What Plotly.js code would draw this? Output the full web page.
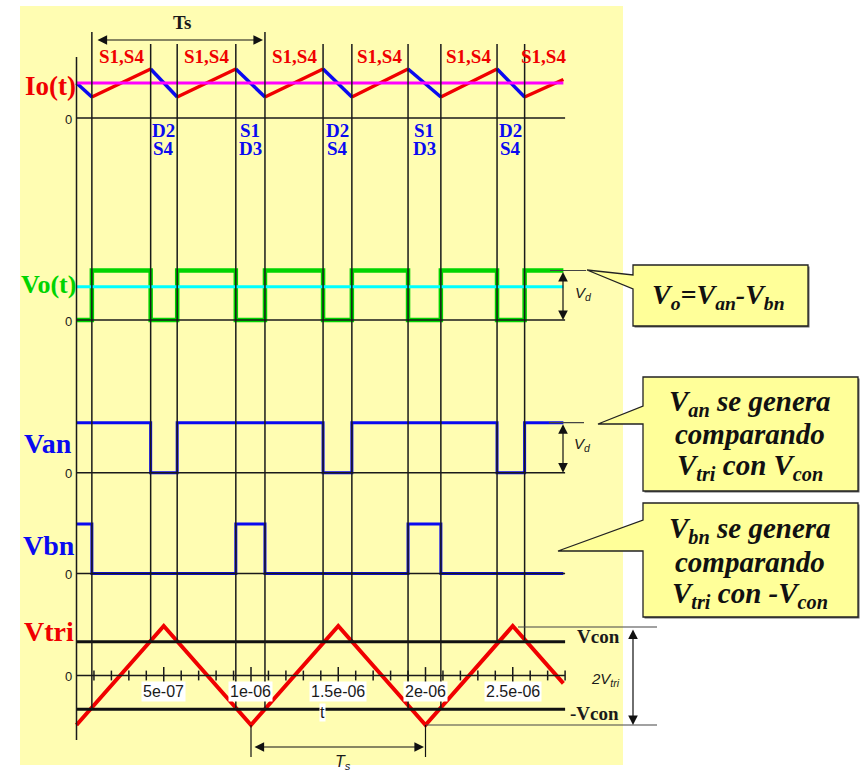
<!DOCTYPE html>
<html>
<head>
<meta charset="utf-8">
<script src="https://cdn.plot.ly/plotly-3.0.1.min.js"></script>
<style>html,body{margin:0;padding:0;background:#fff}</style>
</head>
<body>
<div id="chart" style="width:863px;height:773px"></div>
<script>
// ---- waveform data (time in seconds) ----
const vanSwitchT = [0.425e-6, 0.577e-6, 1.413e-6, 1.578e-6, 2.410e-6, 2.568e-6];
const vbnSwitchT = [0.088e-6, 0.913e-6, 1.080e-6, 1.900e-6, 2.088e-6];

const ioT = [0, 0.088e-6, 0.425e-6, 0.577e-6, 0.913e-6, 1.080e-6, 1.413e-6, 1.578e-6, 1.900e-6, 2.088e-6, 2.410e-6, 2.568e-6, 2.790e-6];
const ioV = [1.0, 0.6, 1.4, 0.6, 1.4, 0.6, 1.4, 0.6, 1.4, 0.6, 1.4, 0.6, 1.1];
const ioAvg = 1.0;

const voT = [0, 0.088e-6, 0.425e-6, 0.577e-6, 0.913e-6, 1.080e-6, 1.413e-6, 1.578e-6, 1.900e-6, 2.088e-6, 2.410e-6, 2.568e-6, 2.790e-6];
const voV = [0, 1, 0, 1, 0, 1, 0, 1, 0, 1, 0, 1, 1];
const voAvg = 0.67;

const vanT = [0, 0.425e-6, 0.577e-6, 1.413e-6, 1.578e-6, 2.410e-6, 2.568e-6, 2.790e-6];
const vanV = [1, 0, 1, 0, 1, 0, 1, 1];

const vbnT = [0, 0.088e-6, 0.913e-6, 1.080e-6, 1.900e-6, 2.088e-6, 2.790e-6];
const vbnV = [1, 0, 1, 0, 1, 0, 0];

const vtriT = [0, 0.5e-6, 1.0e-6, 1.5e-6, 2.0e-6, 2.5e-6, 2.790e-6];
const vtriV = [-1, 1, -1, 1, -1, 1, -0.16];
const vcon = 0.68;

const tEnd = 2.8e-6;

// time axis ticks
const tickVals = [5e-7, 1e-6, 1.5e-6, 2e-6, 2.5e-6];
const tickText = ['5e-07', '1e-06', '1.5e-06', '2e-06', '2.5e-06'];
const minorTicks = [1e-7, 2e-7, 3e-7, 4e-7, 6e-7, 7e-7, 8e-7, 9e-7,
  1.1e-6, 1.2e-6, 1.3e-6, 1.4e-6, 1.6e-6, 1.7e-6, 1.8e-6, 1.9e-6,
  2.1e-6, 2.2e-6, 2.3e-6, 2.4e-6, 2.6e-6, 2.7e-6, 2.8e-6];

// switch-state labels
const riseLabel = 'S1,S4';
const fallTop = ['D2', 'S1', 'D2', 'S1', 'D2'];
const fallBottom = ['S4', 'D3', 'S4', 'D3', 'S4'];

// ---- page geometry ----
const W = 863, H = 773;
const X0 = 76.5, SX = 174.5e6;           // px of t=0, px per second
const AX = {                              // zero-line px and px per unit for each strip
  y:  {zero: 118,   s: 35},
  y2: {zero: 320,   s: 49.5},
  y3: {zero: 472.7, s: 50},
  y4: {zero: 573.5, s: 49.5},
  y5: {zero: 675.5, s: 49.5}
};
const px = x => x / W;
const py = y => 1 - y / H;
const tp = t => px(X0 + t * SX);          // time -> paper x (same mapping as the x axis range)
const yr = k => [(AX[k].zero - H) / AX[k].s, AX[k].zero / AX[k].s];
const valPx = (k, v) => AX[k].zero - v * AX[k].s;
const pathPx = pts => 'M ' + pts.map(p => px(p[0]) + ',' + py(p[1])).join(' L ') + ' Z';

const SERIF = 'Liberation Serif, Times New Roman, serif';
const SANS = 'Liberation Sans, Arial, sans-serif';
const RED = '#F00000', BLUE = '#0A0AF0', GREEN = '#00D400', INK = '#1a1a1a';

// ---- traces ----
const traces = [];

// Io: rising parts red, falling parts blue
const rx = [], ry = [], bx = [], by = [];
for (let i = 0; i < ioT.length - 1; i++) {
  const up = ioV[i + 1] > ioV[i];
  (up ? rx : bx).push(ioT[i], ioT[i + 1], null);
  (up ? ry : by).push(ioV[i], ioV[i + 1], null);
}
traces.push({x: rx, y: ry, yaxis: 'y', mode: 'lines', line: {color: RED, width: 3.5}});
traces.push({x: bx, y: by, yaxis: 'y', mode: 'lines', line: {color: BLUE, width: 3.5}});
traces.push({x: [0, ioT[ioT.length - 1]], y: [ioAvg, ioAvg], yaxis: 'y', mode: 'lines', line: {color: '#FF00FF', width: 3}});

// Vo
traces.push({x: voT, y: voV, yaxis: 'y2', mode: 'lines', line: {color: GREEN, width: 4.5, shape: 'hv'}});
traces.push({x: [0, voT[voT.length - 1]], y: [voAvg, voAvg], yaxis: 'y2', mode: 'lines', line: {color: '#00FFFF', width: 3}});

// Van, Vbn
traces.push({x: vanT, y: vanV, yaxis: 'y3', mode: 'lines', line: {color: BLUE, width: 3, shape: 'hv'}});
traces.push({x: vbnT, y: vbnV, yaxis: 'y4', mode: 'lines', line: {color: BLUE, width: 3, shape: 'hv'}});

// Vtri and its time-axis ticks
traces.push({x: vtriT, y: vtriV, yaxis: 'y5', mode: 'lines', line: {color: RED, width: 4}});
traces.push({x: minorTicks, y: minorTicks.map(() => 0), yaxis: 'y5', mode: 'markers',
  marker: {symbol: 'line-ns', size: 7, line: {width: 1.5, color: INK}}});
traces.push({x: tickVals, y: tickVals.map(() => 0), yaxis: 'y5', mode: 'markers',
  marker: {symbol: 'line-ns', size: 12, line: {width: 1.5, color: INK}}});

// ---- shapes ----
const shapes = [];
shapes.push({type: 'rect', xref: 'paper', yref: 'paper', x0: px(20), x1: px(623), y0: py(6), y1: py(765),
  fillcolor: '#FFFDB2', line: {width: 0}, layer: 'below'});

// zero lines of every strip
['y', 'y2', 'y3', 'y4', 'y5'].forEach(k => {
  shapes.push({type: 'line', xref: 'x', yref: k, x0: 0, x1: tEnd, y0: 0, y1: 0, line: {color: INK, width: 1.5}});
});
// ±Vcon levels
[vcon, -vcon].forEach(v => {
  shapes.push({type: 'line', xref: 'x', yref: 'y5', x0: 0, x1: tEnd, y0: v, y1: v, line: {color: '#111', width: 3}});
});
// left time-axis line
shapes.push({type: 'line', xref: 'x', yref: 'paper', x0: 0, x1: 0, y0: py(57), y1: py(740), line: {color: INK, width: 1.5}});
// switching instants
vanSwitchT.forEach(t => {
  shapes.push({type: 'line', xref: 'x', yref: 'paper', x0: t, x1: t, y0: py(44), y1: py(valPx('y5', vcon)), line: {color: INK, width: 1.5}});
});
vbnSwitchT.forEach((t, i) => {
  const top = (i === 0 || i === 2) ? 32 : 44;
  shapes.push({type: 'line', xref: 'x', yref: 'paper', x0: t, x1: t, y0: py(top), y1: py(valPx('y5', -vcon)), line: {color: INK, width: 1.5}});
});
// Vd reference ticks
shapes.push({type: 'line', xref: 'paper', yref: 'paper', x0: px(550), x1: px(586), y0: py(valPx('y2', 1)), y1: py(valPx('y2', 1)), line: {color: '#444', width: 1.2}});
shapes.push({type: 'line', xref: 'paper', yref: 'paper', x0: px(549), x1: px(584), y0: py(valPx('y3', 1)), y1: py(valPx('y3', 1)), line: {color: '#444', width: 1.2}});
// 2Vtri reference lines
shapes.push({type: 'line', xref: 'paper', yref: 'paper', x0: px(518), x1: px(657), y0: py(627), y1: py(627), line: {color: '#444', width: 1.2}});
shapes.push({type: 'line', xref: 'paper', yref: 'paper', x0: tp(2e-6), x1: px(657), y0: py(725), y1: py(725), line: {color: '#444', width: 1.2}});
// Ts markers under the triangle
[1e-6, 2e-6].forEach(t => {
  shapes.push({type: 'line', xref: 'x', yref: 'paper', x0: t, x1: t, y0: py(725), y1: py(757), line: {color: '#111', width: 1.2}});
});

// callout boxes (shadow + body)
const callouts = [
  [[633, 265], [808, 265], [808, 326], [633, 326], [633, 289], [587, 270], [633, 275]],
  [[643, 377], [858, 377], [858, 491], [643, 491], [643, 424], [598, 424], [643, 406]],
  [[643, 503], [858, 503], [858, 617], [643, 617], [643, 551], [558, 551], [643, 520]]
];
callouts.forEach(pts => {
  const b = pts.slice(0, 4).map(p => [p[0] + 1.5, p[1] + 1.5]);
  shapes.push({type: 'path', xref: 'paper', yref: 'paper', path: pathPx(b), fillcolor: '#666', line: {width: 0}});
  shapes.push({type: 'path', xref: 'paper', yref: 'paper', path: pathPx(pts), fillcolor: '#FFFF99', line: {color: '#222', width: 1.3}});
});

// ---- annotations ----
const ann = [];
const txt = (x, y, text, size, color, family, extra) => Object.assign({
  xref: 'paper', yref: 'paper', x: x, y: py(y), text: text, showarrow: false,
  xanchor: 'center', yanchor: 'middle', font: {family: family || SERIF, size: size, color: color || INK}
}, extra || {});
const at = (x, y, text, size, color, family, extra) => txt(px(x), y, text, size, color, family, extra);

// strip names
ann.push(at(50, 86, '<b>Io(t)</b>', 27, RED));
ann.push(at(48, 284, '<b>Vo(t)</b>', 26, GREEN));
ann.push(at(48, 443, '<b>Van</b>', 28, BLUE));
ann.push(at(49, 545, '<b>Vbn</b>', 28, BLUE));
ann.push(at(49, 631, '<b>Vtri</b>', 28, RED));
// zero labels
['y', 'y2', 'y3', 'y4', 'y5'].forEach(k => ann.push(at(68, valPx(k, 0) + 1, '0', 13, INK, SANS)));

// conduction labels above / below Io
for (let i = 0; i < ioT.length - 1; i++) {
  if (ioV[i + 1] > ioV[i]) {
    ann.push(txt(tp((ioT[i] + ioT[i + 1]) / 2), 57, '<b>' + riseLabel + '</b>', 19, RED));
  }
}
let f = 0;
for (let i = 1; i < ioT.length - 1; i++) {
  if (ioV[i + 1] < ioV[i]) {
    const xm = tp((ioT[i] + ioT[i + 1]) / 2);
    ann.push(txt(xm, 130, '<b>' + fallTop[f] + '</b>', 19, BLUE));
    ann.push(txt(xm, 148, '<b>' + fallBottom[f] + '</b>', 19, BLUE));
    f++;
  }
}

// time tick labels
tickVals.forEach((t, i) => {
  ann.push(txt(tp(t), 691, tickText[i], 16, INK, SANS, {bgcolor: '#ffffff', borderpad: 1}));
});
ann.push(txt(tp(1.41e-6), 712, 't', 16, INK, SANS, {bgcolor: '#ffffff', borderpad: 0}));

// Ts (top)
ann.push(at(182, 22, '<b>Ts</b>', 19, INK));
const dbl = (x, y, ax, ay) => ({xref: 'paper', yref: 'paper', x: px(x), y: py(y), ax: ax, ay: ay, text: '',
  showarrow: true, arrowside: 'end+start', arrowhead: 2, startarrowhead: 2, arrowsize: 1.6, startarrowsize: 1.6,
  arrowwidth: 1.2, arrowcolor: '#111', standoff: 0, startstandoff: 0});
ann.push(dbl(263, 40, -167, 0));
// Vd arrows
ann.push(dbl(563, valPx('y2', 0), 0, -(valPx('y2', 0) - valPx('y2', 1))));
ann.push(dbl(563, valPx('y3', 0), 0, -(valPx('y3', 0) - valPx('y3', 1))));
ann.push(at(583, 294, '<i>V<sub>d</sub></i>', 15, INK, SANS));
ann.push(at(582, 444, '<i>V<sub>d</sub></i>', 15, INK, SANS));
// 2Vtri arrow and Ts (bottom)
ann.push(dbl(633, 725, 0, -97));
ann.push(dbl(424, 747, -171, 0));
ann.push(at(343, 762, '<i>T<sub>s</sub></i>', 16, INK, SANS));
ann.push(at(598, 636, '<b>Vcon</b>', 19, INK));
ann.push(at(594, 713, '<b>-Vcon</b>', 19, INK));
ann.push(at(605, 679, '<i>2V<sub>tri</sub></i>', 15, INK, SANS));

// callout texts
ann.push(at(718, 296, '<b><i>V<sub>o</sub>=V<sub>an</sub>-V<sub>bn</sub></i></b>', 28, '#111'));
ann.push(at(750, 403, '<b><i>V<sub>an</sub> se genera</i></b>', 29, '#111'));
ann.push(at(750, 434, '<b><i>comparando</i></b>', 29, '#111'));
ann.push(at(750, 467, '<b><i>V<sub>tri</sub> con V<sub>con</sub></i></b>', 29, '#111'));
ann.push(at(750, 530, '<b><i>V<sub>bn</sub> se genera</i></b>', 29, '#111'));
ann.push(at(750, 562, '<b><i>comparando</i></b>', 29, '#111'));
ann.push(at(750, 595, '<b><i>V<sub>tri</sub> con -V<sub>con</sub></i></b>', 29, '#111'));

const hidden = {visible: false, fixedrange: true};
const layout = {
  width: W, height: H,
  margin: {l: 0, r: 0, t: 0, b: 0, pad: 0},
  paper_bgcolor: '#ffffff', plot_bgcolor: 'rgba(0,0,0,0)',
  showlegend: false,
  xaxis: Object.assign({range: [-X0 / SX, (W - X0) / SX]}, hidden),
  yaxis: Object.assign({range: yr('y')}, hidden),
  yaxis2: Object.assign({range: yr('y2'), overlaying: 'y'}, hidden),
  yaxis3: Object.assign({range: yr('y3'), overlaying: 'y'}, hidden),
  yaxis4: Object.assign({range: yr('y4'), overlaying: 'y'}, hidden),
  yaxis5: Object.assign({range: yr('y5'), overlaying: 'y'}, hidden),
  shapes: shapes,
  annotations: ann
};
Plotly.newPlot('chart', traces, layout, {staticPlot: true, displayModeBar: false});
</script>
</body>
</html>
